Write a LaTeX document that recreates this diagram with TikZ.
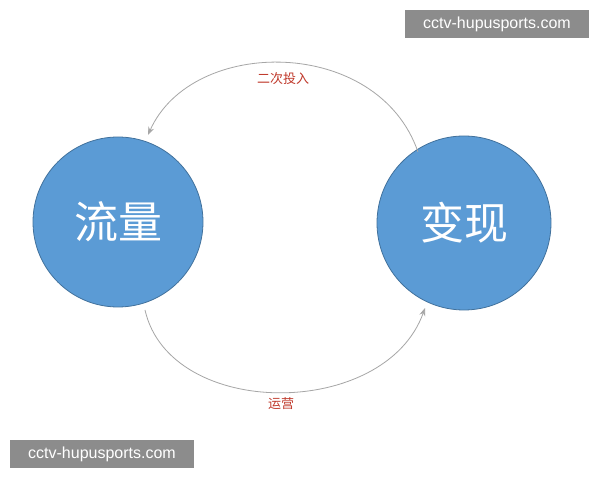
\documentclass[tikz,border=0pt]{standalone}
\usepackage{fontspec}
\setmainfont{Liberation Sans}
\newfontfamily\cjk{Noto Sans CJK SC}
\usetikzlibrary{arrows.meta,positioning}
\definecolor{ballblue}{HTML}{5B9BD5}
\definecolor{ballrim}{HTML}{41719C}
\definecolor{labelred}{HTML}{C0392B}
\definecolor{markgray}{HTML}{8C8C8C}
\begin{document}
\begin{tikzpicture}[x=0.5pt,y=-0.5pt]
    \tikzstyle{ball} = [shape=circle, fill=ballblue, draw=ballrim, line width=0.4pt, inner sep=0pt, text=white, font=\cjk\fontsize{22}{26}\selectfont];
    \tikzstyle{loopline} = [-{Stealth[length=4pt,width=3pt]}, draw=gray!70, line width=0.4pt];
    \tikzstyle{tag} = [text=labelred, font=\cjk\fontsize{6.5}{7}\selectfont];
    \tikzstyle{watermark} = [fill=markgray, text=white, font=\fontsize{8}{9}\selectfont, minimum width=92pt, minimum height=14pt, inner sep=0pt];

    \useasboundingbox[fill=white] (0,0) rectangle (600,480);

    \node[ball, minimum size=85pt](flow) at (118,222) {流量};
    \node[ball, minimum size=87pt](cash) at (464,223) {变现};

    \coordinate (topstart) at (418,152);
    \coordinate (botend) at (425,308);

    \draw[loopline] (topstart) .. controls (378,36) and (192,36) .. (148,135);
    \draw[loopline] (145,310) .. controls (170,420) and (385,420) .. (botend);

    \node[tag](reinvest) at (283,79) {二次投入};
    \node[tag](operate) at (281,404) {运营};

    \node[watermark](wmtop) at (497,24) {cctv-hupusports.com};
    \node[watermark](wmbot) at (102,454) {cctv-hupusports.com};
\end{tikzpicture}
\end{document}
